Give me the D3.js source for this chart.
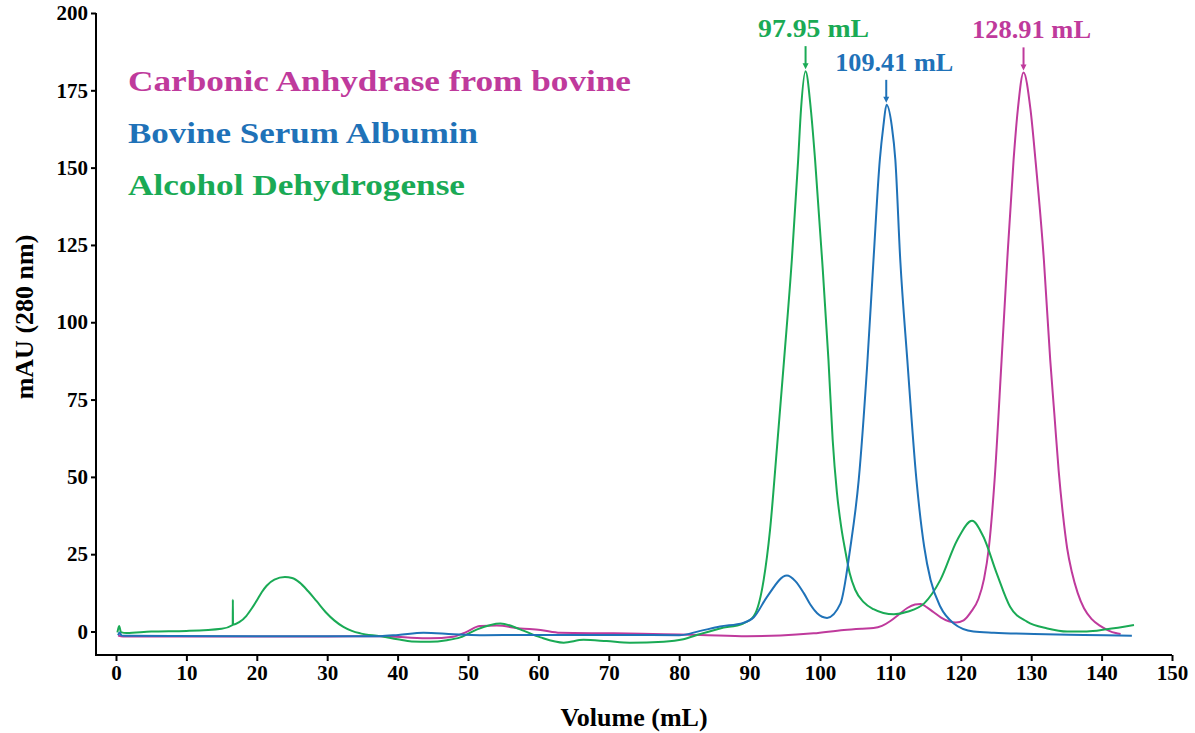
<!DOCTYPE html>
<html>
<head>
<meta charset="utf-8">
<script src="https://cdn.jsdelivr.net/npm/d3@7"></script>
<style>
  html, body { margin: 0; padding: 0; background: #fff; }
  svg { display: block; }
  text { font-family: "Liberation Serif", "Times New Roman", serif; font-weight: bold; }
</style>
</head>
<body>
<svg id="chart" width="1195" height="733"></svg>
<script>
// ---------------- data ----------------
const xTicks = [0, 10, 20, 30, 40, 50, 60, 70, 80, 90, 100, 110, 120, 130, 140, 150];
const yTicks = [0, 25, 50, 75, 100, 125, 150, 175, 200];

const seriesNames = ["Carbonic Anhydrase from bovine", "Bovine Serum Albumin", "Alcohol Dehydrogense"];
const seriesColors = ["#bf3a9c", "#1f72b8", "#1aaa55"];

// Carbonic Anhydrase (magenta) [volume mL, mAU]
const caVolume = [0.3, 1, 10, 20, 30, 37.5, 41, 44.6, 47.9, 49.8, 51.7, 54.1, 57.4, 60.3, 63.1, 70.7, 77.8, 83, 89.6, 94.4, 99.1, 103.4, 106, 107.6, 108.8, 110.0, 111.2, 112.4, 113.5, 114.3, 115.2, 116.1, 117.2, 118.3, 119.3, 120.4, 121.5, 122.5, 123.3, 124.0, 124.8, 125.8, 126.6, 127.5, 128.1, 128.91, 129.9, 130.6, 131.8, 132.7, 133.3, 133.9, 134.5, 135.1, 135.8, 136.6, 137.5, 138.6, 139.8, 141.0, 142.0, 142.7];
const caMAU    = [-1.3, -1.6, -1.6, -1.6, -1.6, -1.5, -1.9, -2.2, -1.7, -0.1, 1.8, 1.9, 1.0, 0.5, -0.4, -0.6, -0.9, -1.1, -1.5, -1.3, -0.6, 0.5, 0.9, 1.1, 1.8, 3.4, 5.5, 7.6, 8.7, 8.9, 7.8, 6.3, 4.5, 3.3, 2.9, 3.6, 6.5, 10.5, 17, 27.4, 49, 88, 120.2, 152.6, 168.8, 180.8, 168.8, 152.6, 120.2, 87.9, 70, 52, 38, 27, 19, 12.5, 7.5, 4, 1.8, 0.3, -0.5, -0.8];

// Bovine Serum Albumin (blue)
const bsaVolume = [0.3, 0.5, 0.8, 2, 20, 37.5, 40.1, 43.7, 47.9, 51.7, 58.4, 70, 80, 83, 85.8, 89.1, 90.6, 92.5, 95.3, 96.5, 97.7, 98.6, 99.6, 101.0, 102.9, 104.3, 105.5, 106.7, 107.6, 108.5, 109.0, 109.45, 110.2, 110.7, 111.4, 112.4, 113.7, 114.8, 115.7, 117.1, 119.0, 121.8, 124.7, 130.4, 137.5, 144.3];
const bsaMAU    = [-1.2, -0.3, -1.3, -1.4, -1.5, -1.5, -1.1, -0.4, -0.9, -1.2, -1.1, -1.1, -1.2, 0.2, 1.6, 2.8, 4.6, 11.3, 18.1, 16.3, 12.4, 8.8, 5.9, 4.4, 9, 27, 49, 86, 120.2, 152.6, 163.4, 170.3, 163.4, 152.6, 120.2, 87.9, 49, 27.4, 16.7, 8, 2.6, 0, -0.4, -0.8, -1.1, -1.4];

// Alcohol Dehydrogenase (green)
const adhVolume = [0.2, 0.45, 0.7, 1.5, 5, 10, 15, 16.58, 16.6, 16.62, 17.5, 18.5, 19.3, 20, 20.7, 21.4, 22.5, 24, 25, 26.1, 27.3, 28.5, 29.9, 31, 32.3, 33.5, 34.7, 37.5, 40, 42, 44.6, 47, 48.9, 51.3, 54.6, 57.4, 60.3, 63.6, 66.4, 69.7, 73, 77.8, 80.6, 83, 85.8, 89.1, 90.6, 92.0, 92.9, 93.9, 94.9, 96.0, 96.9, 97.3, 97.95, 98.7, 99.3, 100.3, 101.2, 101.8, 102.4, 103.0, 103.6, 104.2, 105.0, 106.2, 107.6, 109.0, 110.5, 112.4, 114.8, 117.1, 119.5, 121.6, 123.2, 125.1, 127.0, 129.4, 132.3, 135.1, 137.9, 140.7, 144.6];
const adhMAU    = [-0.3, 1.8, -0.2, -0.5, 0, 0.2, 0.9, 2.1, 10.3, 2.2, 3.0, 5.0, 7.5, 10, 12.7, 14.8, 16.8, 17.6, 17.3, 15.8, 13.0, 9.8, 6.0, 3.6, 1.5, 0.2, -0.6, -1.5, -2.5, -3.2, -3.3, -2.8, -1.9, 0.7, 2.6, 0.7, -1.9, -3.6, -2.7, -3.1, -3.6, -3.3, -2.5, -0.8, 1.0, 2.6, 5.0, 16.7, 32.8, 59.8, 87.9, 120.2, 152.6, 168.8, 181.2, 168.8, 152.6, 120.2, 87.9, 62, 45, 34, 26, 19, 13.5, 9.5, 7.2, 6.0, 5.6, 6.4, 9.1, 16.7, 29.6, 35.8, 30.7, 18.8, 8.0, 3.2, 1.0, 0, 0, 0.7, 2.1];

// peak annotations
const peakVolumes = [97.95, 109.41, 128.91];
const peakHeights = [181.2, 170.3, 180.8];
const peakLabels = ["97.95 mL", "109.41 mL", "128.91 mL"];
const peakColorIdx = [2, 1, 0];
const peakLabelWidths = [111, 118, 119];
const legendWidths = [503, 350, 337];

// ---------------- drawing ----------------
const svg = d3.select("#chart");
const x = d3.scaleLinear().domain([-2.84, 150]).range([96, 1172]);
const y = d3.scaleLinear().domain([-7.6, 200]).range([655, 13]);

const series = [
  { v: caVolume, m: caMAU, c: seriesColors[0] },
  { v: adhVolume, m: adhMAU, c: seriesColors[2] },
  { v: bsaVolume, m: bsaMAU, c: seriesColors[1] }
];

const line = d3.line().x(d => x(d[0])).y(d => y(d[1])).curve(d3.curveMonotoneX);

series.forEach(s => {
  const pts = s.v.map((vv, i) => [vv, s.m[i]]);
  svg.append("path")
    .datum(pts)
    .attr("d", line)
    .attr("fill", "none")
    .attr("stroke", s.c)
    .attr("stroke-width", 2)
    .attr("stroke-linejoin", "round");
});

// axes
const xAxis = d3.axisBottom(x).tickValues(xTicks).tickSize(6).tickPadding(4).tickSizeOuter(0);
const yAxis = d3.axisLeft(y).tickValues(yTicks).tickSize(5).tickPadding(3).tickSizeOuter(0);

const gx = svg.append("g").attr("transform", "translate(0,655)").call(xAxis);
const gy = svg.append("g").attr("transform", "translate(96,0)").call(yAxis);

[gx, gy].forEach(g => {
  g.select(".domain").attr("stroke", "#000").attr("stroke-width", 2);
  g.selectAll(".tick line").attr("stroke", "#000").attr("stroke-width", 2);
  g.selectAll(".tick text")
    .attr("fill", "#000")
    .style("font-family", "'Liberation Serif', 'Times New Roman', serif")
    .style("font-weight", "bold")
    .style("font-size", "21px");
});
gx.select(".domain").attr("d", `M${x(-2.84) - 1},0H${x(150)}`);
gy.select(".domain").attr("d", `M0,${y(-7.6) + 1}V${y(200)}`);

// axis titles
svg.append("text")
  .attr("x", 634).attr("y", 726)
  .attr("text-anchor", "middle")
  .style("font-size", "26px")
  .attr("fill", "#000")
  .text("Volume (mL)");

svg.append("text")
  .attr("transform", "translate(33,317) rotate(-90)")
  .attr("text-anchor", "middle")
  .style("font-size", "26px")
  .attr("fill", "#000")
  .text("mAU (280 nm)");

// legend
const legendY = [91, 143, 195];
seriesNames.forEach((name, i) => {
  svg.append("text")
    .attr("x", 128).attr("y", legendY[i])
    .attr("fill", seriesColors[i])
    .style("font-size", "30px")
    .attr("textLength", legendWidths[i])
    .attr("lengthAdjust", "spacingAndGlyphs")
    .text(name);
});

// peak annotations
peakVolumes.forEach((pv, i) => {
  const col = seriesColors[peakColorIdx[i]];
  const px = x(pv);
  const bottom = y(peakHeights[i]) - 2;
  const top = bottom - 23;
  svg.append("line")
    .attr("x1", px).attr("x2", px)
    .attr("y1", top).attr("y2", bottom - 5)
    .attr("stroke", col).attr("stroke-width", 2);
  svg.append("path")
    .attr("d", `M${px - 3},${bottom - 6}L${px + 3},${bottom - 6}L${px},${bottom}Z`)
    .attr("fill", col);
  svg.append("text")
    .attr("x", px + 8).attr("y", top - 9)
    .attr("text-anchor", "middle")
    .attr("fill", col)
    .style("font-size", "25px")
    .attr("textLength", peakLabelWidths[i])
    .attr("lengthAdjust", "spacingAndGlyphs")
    .text(peakLabels[i]);
});
</script>
</body>
</html>
